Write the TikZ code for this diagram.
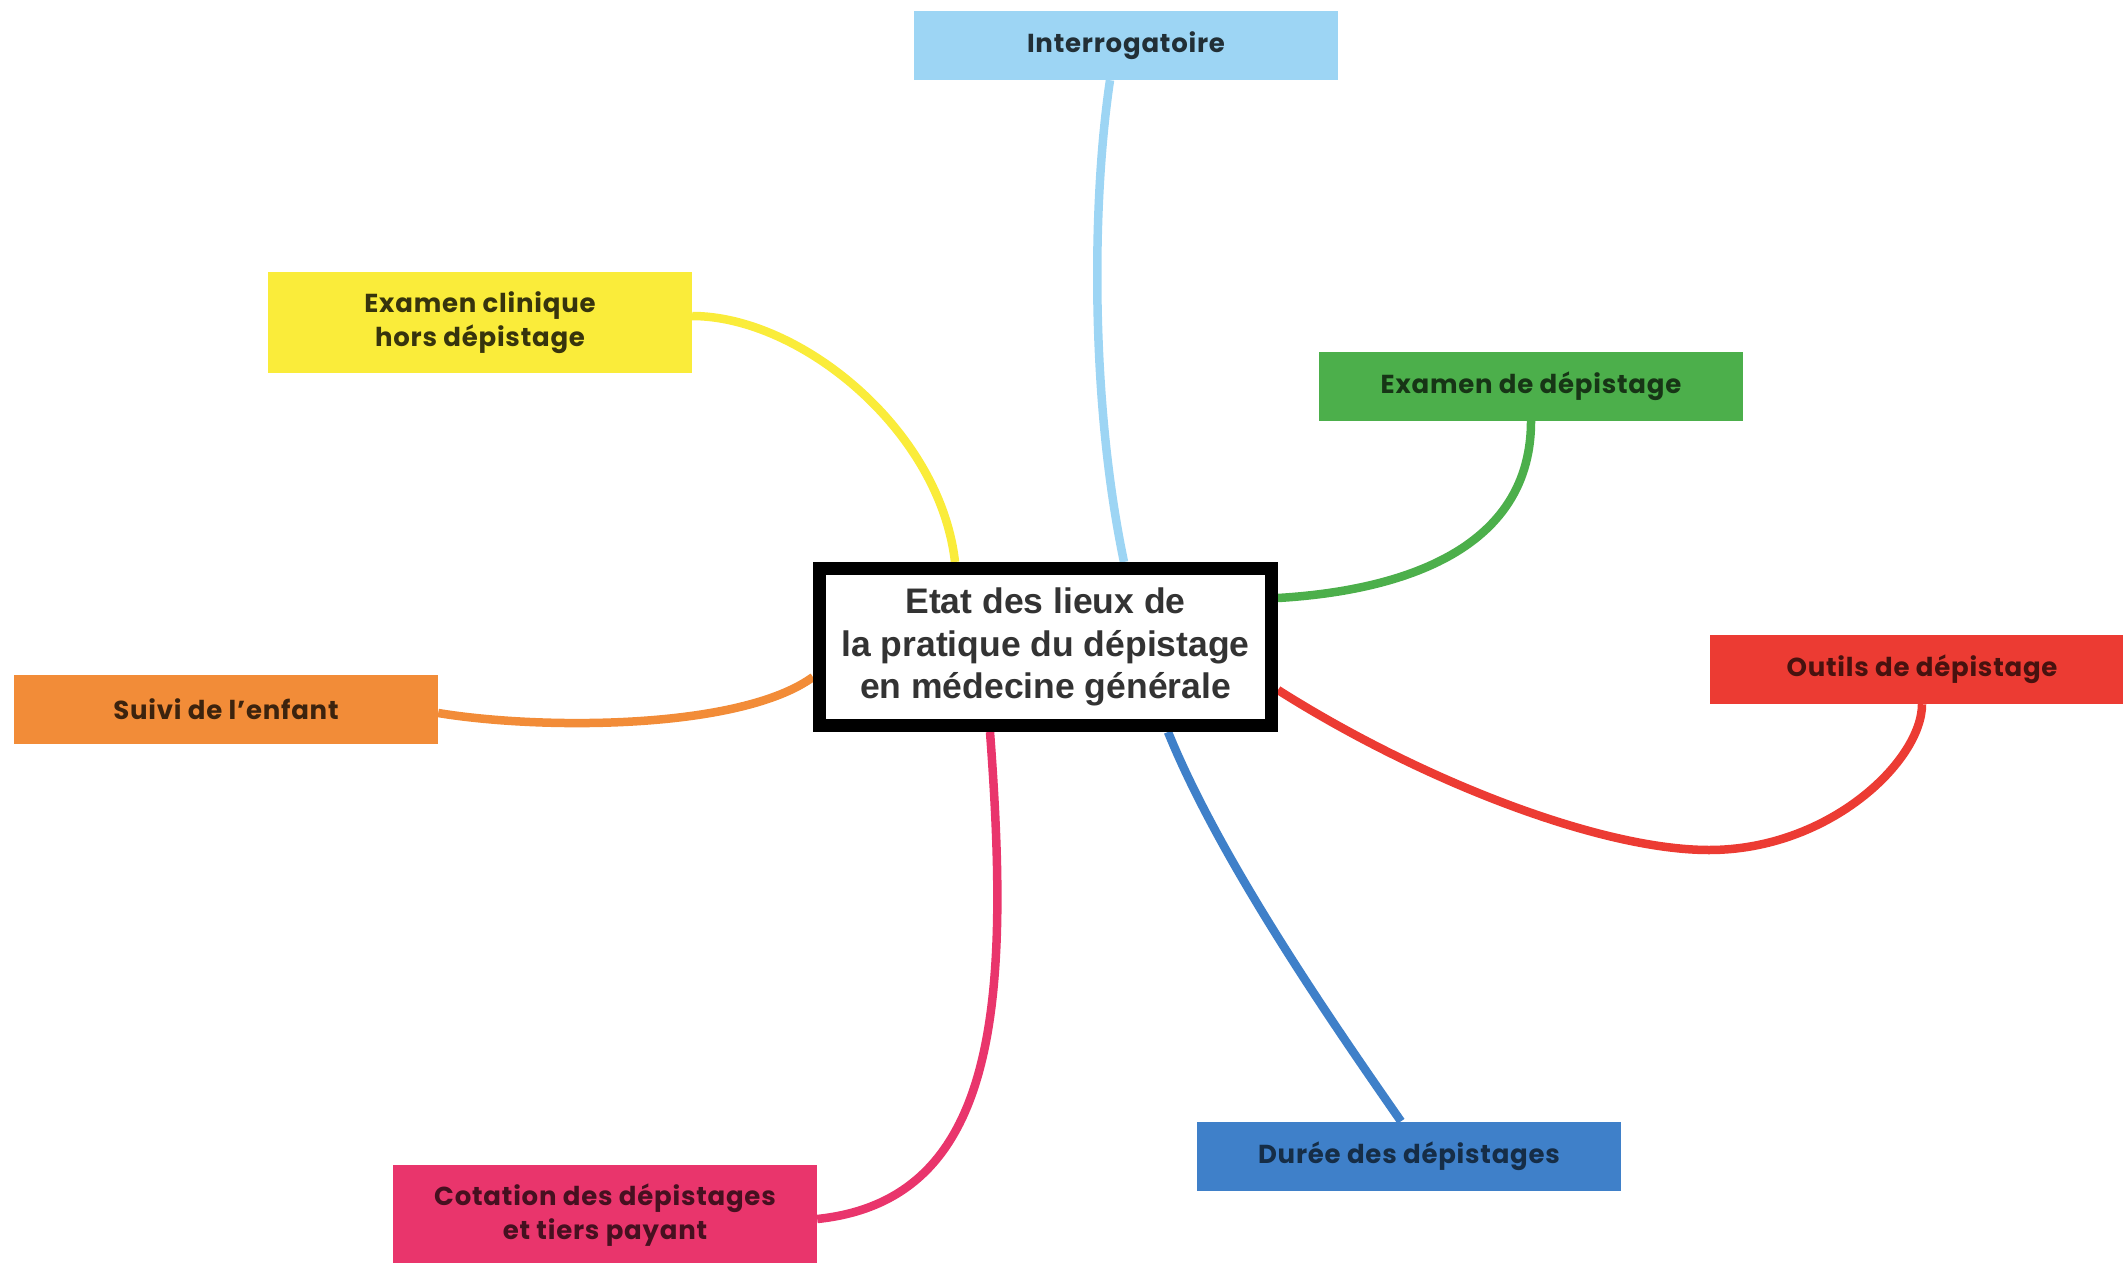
\documentclass[tikz,border=0pt]{standalone}
\usepackage{fontspec}
\setmainfont{Liberation Sans}
\newfontfamily\labfont[LetterSpace=3]{Poppins}
\usetikzlibrary{backgrounds}

\definecolor{skyc}{HTML}{9DD5F4}
\definecolor{yelc}{HTML}{FAEC3A}
\definecolor{grnc}{HTML}{4CAF4B}
\definecolor{redc}{HTML}{EC3B33}
\definecolor{orac}{HTML}{F28C38}
\definecolor{bluc}{HTML}{3F80C9}
\definecolor{pnkc}{HTML}{E9356C}
\definecolor{inkc}{HTML}{333333}

\tikzset{
  leaf/.style={rectangle, minimum width=424pt, inner sep=0pt, align=center,
    font=\labfont\bfseries\fontsize{26}{34}\selectfont},
  leafone/.style={leaf, minimum height=69pt},
  leaftwo/.style={leaf, minimum height=101pt},
  hub/.style={rectangle, draw=black, line width=13pt, fill=white,
    minimum width=452pt, minimum height=157pt, inner sep=0pt, align=center,
    text=inkc, font=\bfseries\fontsize{35.5}{42.5}\selectfont},
  branch/.style={line width=8.5pt}
}

\begin{document}
\begin{tikzpicture}[x=1pt, y=-1pt]
\useasboundingbox (0,0) rectangle (2123,1263);
\clip (0,0) rectangle (2123,1263);

% central topic
\node[hub] (ctr) at (1045.5,647) {Etat des lieux de\\la pratique du dépistage\\en médecine générale};

% branch topics
\node[leafone, fill=skyc, text=skyc!22!black] (iq) at (1126,45.5) {Interrogatoire};
\node[leaftwo, fill=yelc, text=yelc!22!black] (yl) at (480,322.5) {Examen clinique\\hors dépistage};
\node[leafone, fill=grnc, text=grnc!30!black] (gr) at (1531,386.5) {Examen de dépistage};
\node[leafone, fill=redc, text=redc!30!black] (rd) at (1922,669.5) {Outils de dépistage};
\node[leafone, fill=orac, text=orac!25!black] (or) at (226,709) {Suivi de l’enfant};
\node[leafone, fill=bluc, text=bluc!35!black] (bl) at (1409,1156) {Durée des dépistages};
\node[leaftwo, fill=pnkc, text=pnkc!30!black] (pk) at (605,1215.5) {Cotation des dépistages\\et tiers payant};

\coordinate (rdbend) at (1709,850);

% curved branches, behind the boxes
\begin{scope}[on background layer]
  \draw[branch, skyc] ([xshift=-16pt]iq.south) .. controls +(-18,120) and +(-34,-162) .. ([xshift=78.5pt]ctr.north);
  \draw[branch, yelc] ([yshift=6.5pt]yl.east) .. controls +(108,0) and +(-15,-132) .. ([xshift=-90.5pt]ctr.north);
  \draw[branch, grnc] (gr.south) .. controls +(0,139) and +(102,-6) .. ([yshift=49pt]ctr.east);
  \draw[branch, redc] ([yshift=-43pt]ctr.east) .. controls +(142,90) and +(-109,0) .. (rdbend)
              .. controls +(121,0) and +(0,56) .. (rd.south);
  \draw[branch, bluc] ([xshift=122.5pt]ctr.south) .. controls +(52,128) and +(-71,-102) .. ([xshift=-8pt]bl.north);
  \draw[branch, pnkc] ([xshift=-55.5pt]ctr.south) .. controls +(20,268) and +(183,-19) .. ([yshift=-3.5pt]pk.east);
  \draw[branch, orac] ([yshift=-4pt]or.east) .. controls +(103,17) and +(-73,53) .. ([yshift=-30pt]ctr.west);
\end{scope}
\end{tikzpicture}
\end{document}
